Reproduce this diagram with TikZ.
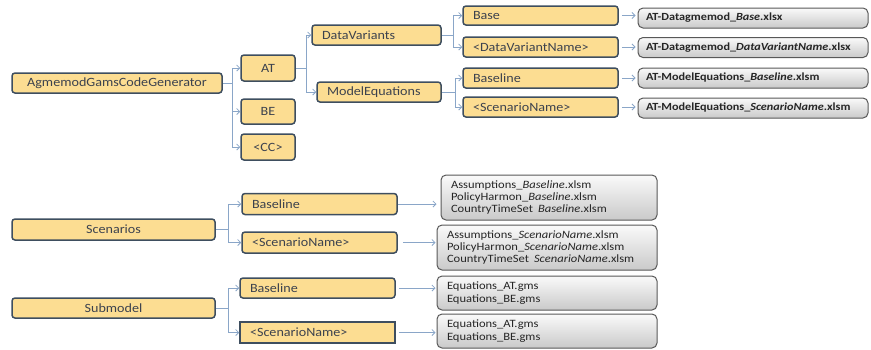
\documentclass[tikz,border=0pt]{standalone}
\usepackage{fontspec}
\setmainfont{Carlito}[FakeStretch=1.12]
\usetikzlibrary{arrows.meta}
\definecolor{boxfill}{RGB}{252,221,146}
\definecolor{boxline}{RGB}{62,78,95}
\definecolor{linkblue}{RGB}{138,166,200}
\definecolor{boxtext}{RGB}{60,66,78}
\definecolor{fileline}{RGB}{88,88,88}
\tikzset{
  ybox/.style={draw=boxline, line width=1.5pt, fill=boxfill, rounded corners=3pt,
    text=boxtext, font=\fontsize{12.6}{14}\selectfont, inner ysep=0pt, minimum height=20pt},
  ylbox/.style={ybox, align=left, inner xsep=10pt},
  gbox/.style={draw=fileline, line width=1pt, rounded corners=5pt, top color=gray!4,
    bottom color=gray!42, text=black!85, align=left, inner xsep=10pt, inner ysep=0pt,
    font=\fontsize{11.2}{12.3}\selectfont},
  gtopbox/.style={gbox, minimum height=20pt, inner xsep=8pt, text width=214pt,
    font=\fontsize{10.9}{12}\selectfont\bfseries},
  link/.style={draw=linkblue, line width=0.8pt, -{Straight Barb[length=3pt,width=6pt]}},
}
\begin{document}
\begin{tikzpicture}[x=1pt,y=-1pt]
        \useasboundingbox (0,0) rectangle (871,349);
        %% Code generator tree
        \node[ybox, minimum width=210pt] (gen) at (117,83) {AgmemodGamsCodeGenerator};
        \node[ybox, minimum width=54pt, minimum height=26pt] (at) at (268,68) {AT};
        \node[ybox, minimum width=54pt, minimum height=25pt] (be) at (268,111.5) {BE};
        \node[ybox, minimum width=54pt, minimum height=26pt] (cc) at (268,147) {<CC>};
        \coordinate (genfork) at (232,83);
        \draw[link] (gen.east) -- (genfork) |- (at.west);
        \draw[link] (genfork) |- (be.west);
        \draw[link] (genfork) |- (cc.west);
        %% AT branches
        \node[ylbox, text width=109pt] (dv) at (376.5,35) {DataVariants};
        \node[ylbox, text width=104pt] (me) at (379,92) {ModelEquations};
        \coordinate (atfork) at (306,68);
        \draw[link] (at.east) -- (atfork) |- (dv.west);
        \draw[link] (atfork) |- (me.west);
        %% Data variants and model equations
        \node[ylbox, text width=135pt, minimum height=19pt] (dvbase) at (540.5,15.5) {Base};
        \node[ylbox, text width=135pt] (dvname) at (540.5,47) {<DataVariantName>};
        \node[ylbox, text width=135pt] (mebase) at (540.5,78) {Baseline};
        \node[ylbox, text width=135pt] (mename) at (540.5,107) {<ScenarioName>};
        \coordinate (dvfork) at (453,35);
        \coordinate (mefork) at (455,92);
        \draw[link] (dv.east) -- (dvfork) |- (dvbase.west);
        \draw[link] (dvfork) |- (dvname.west);
        \draw[link] (me.east) -- (mefork) |- (mebase.west);
        \draw[link] (mefork) |- (mename.west);
        %% Workbooks
        \node[gtopbox] (dvbasefile) at (753,18) {AT-Datagmemod\_\textit{Base}.xlsx};
        \node[gtopbox] (dvnamefile) at (753,47.5) {AT-Datagmemod\_\textit{DataVariantName}.xlsx};
        \node[gtopbox] (mebasefile) at (753,78) {AT-ModelEquations\_\textit{Baseline}.xlsm};
        \node[gtopbox] (menamefile) at (753,108) {AT-ModelEquations\_\textit{ScenarioName}.xlsm};
        \draw[link, shorten <=3pt, shorten >=2pt] (dvbase.east) -- (dvbase.east -| dvbasefile.west);
        \draw[link, shorten <=3pt, shorten >=2pt] (dvname.east) -- (dvname.east -| dvnamefile.west);
        \draw[link, shorten <=3pt, shorten >=2pt] (mebase.east) -- (mebase.east -| mebasefile.west);
        \draw[link, shorten <=3pt, shorten >=2pt] (mename.east) -- (mename.east -| menamefile.west);
        %% Scenarios
        \node[ybox, minimum width=203pt, minimum height=21pt] (sc) at (113.5,229.5) {Scenarios};
        \node[ylbox, text width=135pt, minimum height=21pt] (scbase) at (319.5,204) {Baseline};
        \node[ylbox, text width=135pt, minimum height=21pt] (scname) at (319.5,242.5) {<ScenarioName>};
        \coordinate (scfork) at (228,229.5);
        \draw[link] (sc.east) -- (scfork) |- (scbase.west);
        \draw[link] (scfork) |- (scname.west);
        \node[gbox, text width=196pt, minimum height=45pt] (scbasefile) at (549,197.5)
            {Assumptions\_\textit{Baseline}.xlsm\\PolicyHarmon\_\textit{Baseline}.xlsm\\CountryTimeSet\hspace{5pt}\textit{Baseline}.xlsm};
        \node[gbox, text width=200pt, minimum height=45pt] (scnamefile) at (547,247.5)
            {Assumptions\_\textit{ScenarioName}.xlsm\\PolicyHarmon\_\textit{ScenarioName}.xlsm\\CountryTimeSet\hspace{5pt}\textit{ScenarioName}.xlsm};
        \draw[link, shorten >=4pt] (scbase.east) -- (scbase.east -| scbasefile.west);
        \draw[link, shorten <=5pt, shorten >=1pt] (scname.east) -- (scname.east -| scnamefile.west);
        %% Submodel
        \node[ybox, minimum width=203pt] (sub) at (113.5,308) {Submodel};
        \node[ylbox, text width=135pt] (subbase) at (317.5,288) {Baseline};
        \node[ylbox, text width=135pt, minimum height=21pt, sharp corners] (subname) at (317.5,332.5) {<ScenarioName>};
        \coordinate (subfork) at (228,308);
        \draw[link] (sub.east) -- (subfork) |- (subbase.west);
        \draw[link] (subfork) |- (subname.west);
        \node[gbox, text width=200pt, minimum height=34pt] (subbasefile) at (547,293)
            {Equations\_AT.gms\\Equations\_BE.gms};
        \node[gbox, text width=200pt, minimum height=34pt] (subnamefile) at (547,331)
            {Equations\_AT.gms\\Equations\_BE.gms};
        \draw[link, shorten <=3pt, shorten >=1pt] (subbase.east) -- (subbase.east -| subbasefile.west);
        \draw[link, shorten <=3pt, shorten >=1pt] (subname.east) -- (subname.east -| subnamefile.west);
    \end{tikzpicture}
\end{document}
